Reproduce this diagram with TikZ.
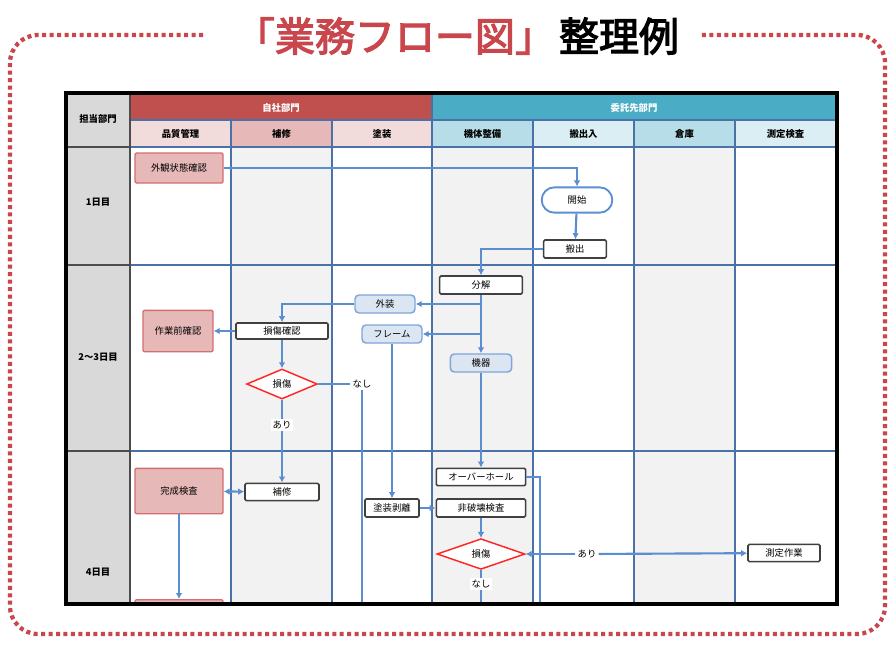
\documentclass[tikz,border=0pt]{standalone}
\usepackage{fontspec}
\setmainfont{Noto Sans CJK JP}
\newfontfamily\titlefont[FakeBold=3]{Noto Sans CJK JP}
\usetikzlibrary{arrows.meta,positioning,shapes.geometric,calc}

\definecolor{titlered}{HTML}{C9474C}
\definecolor{hdred}{HTML}{C0504D}
\definecolor{hdblue}{HTML}{4BACC6}
\definecolor{subred}{HTML}{F2DCDB}
\definecolor{subredd}{HTML}{E6B9B8}
\definecolor{subblue}{HTML}{B7DEE8}
\definecolor{subbluel}{HTML}{DAEEF3}
\definecolor{lanegray}{HTML}{F2F2F2}
\definecolor{cornergray}{HTML}{D9D9D9}
\definecolor{gridblue}{HTML}{4A72A8}
\definecolor{flowblue}{HTML}{5B8ED0}
\definecolor{qcfill}{HTML}{E6B9B8}
\definecolor{qcdraw}{HTML}{D26F70}
\definecolor{partfill}{HTML}{DCE6F2}
\definecolor{partdraw}{HTML}{7EA6DA}

\begin{document}
\begin{tikzpicture}[
  x=0.75pt, y=-0.75pt,
  font=\fontsize{7}{8}\selectfont,
  taskbox/.style={draw=black!75, line width=1.2pt, fill=white, rounded corners=1pt, minimum height=13.5pt, inner sep=1pt},
  qcbox/.style={draw=qcdraw, line width=1pt, fill=qcfill, rounded corners=1pt, inner sep=1pt},
  partbox/.style={draw=partdraw, line width=1.1pt, fill=partfill, rounded corners=3pt, minimum width=45pt, minimum height=13.5pt},
  termbox/.style={draw=flowblue, line width=1.4pt, fill=white, rounded corners=9.5pt, minimum width=53pt, minimum height=19pt},
  judge/.style={diamond, draw=red!85, line width=1.1pt, fill=white, inner sep=0pt},
  yesno/.style={fill=white, inner sep=1.5pt},
  flow/.style={draw=flowblue, line width=1.6pt, -{Latex[length=4.5pt,width=5pt]}},
  link/.style={draw=flowblue, line width=1.6pt},
  lanegrid/.style={draw=gridblue, line width=1pt},
  lanehead/.style={font=\fontsize{7}{8}\selectfont\bfseries}
]
\useasboundingbox (0,0) rectangle (895,644);
\fill[white] (0,0) rectangle (895,644);

\draw[titlered, line width=3.2pt, dash pattern=on 3pt off 2.6pt, rounded corners=21pt]
  (203,35) -- (10,35) -- (10,634) -- (885,634) -- (885,35) -- (700,35);
\node[font=\titlefont\fontsize{30}{34}\selectfont] (title) at (457,36)
  {\textcolor{titlered}{「業務フロー図」}\hspace{3pt}整理例};

\fill[cornergray] (67,94) rectangle (130,603);
\fill[hdred] (130,95) rectangle (432,120);
\fill[hdblue] (432,95) rectangle (836,120);
\foreach \xa in {231,432,634}
  \fill[lanegray] (\xa,147) rectangle ({\xa+101},603);
\foreach \xa/\xb/\col/\name in {130/231/subred/品質管理, 231/332/subredd/補修, 332/432/subred/塗装,
    432/533/subblue/機体整備, 533/634/subbluel/搬出入, 634/735/subblue/倉庫, 735/836/subbluel/測定検査}{
  \fill[\col] (\xa,120) rectangle (\xb,147);
  \node[lanehead] (h-\xa) at ({(\xa+\xb)/2},133.5) {\name};
}
\foreach \x in {231,332,533,634,735}
  \draw[lanegrid] (\x,120) -- (\x,603);
\draw[lanegrid] (432,95) -- (432,603);
\foreach \y in {120,147,265,451}
  \draw[lanegrid] (130,\y) -- (836,\y);
\draw[black!70, line width=1.1pt] (130,94) -- (130,603);
\foreach \y in {147,265,451}
  \draw[black!70, line width=1.1pt] (67,\y) -- (130,\y);

\node[lanehead, text=white] (own) at (281,107.5) {自社部門};
\node[lanehead, text=white] (partner) at (634,107.5) {委託先部門};
\node[lanehead] (corner) at (98,119) {担当部門};
\node[lanehead] (day1) at (98,202) {1日目};
\node[lanehead] (day23) at (98,357) {2～3日目};
\node[lanehead] (day4) at (98,572) {4日目};

\node[qcbox, minimum width=66pt, minimum height=22.5pt] (check) at (179,168) {外観状態確認};
\node[termbox] (start) at (577,200) {開始};
\node[taskbox, minimum width=47pt] (out) at (575,249) {搬出};
\node[taskbox, minimum width=62pt] (disasm) at (481,285) {分解};
\node[partbox] (exterior) at (385,304) {外装};
\node[partbox] (frame) at (392,334) {フレーム};
\node[partbox, minimum width=46pt] (parts) at (481,363) {機器};
\node[qcbox, minimum width=52.5pt, minimum height=31pt] (precheck) at (178,331) {作業前確認};
\node[taskbox, minimum width=69pt, minimum height=12pt] (dmgcheck) at (282,331) {損傷確認};
\node[judge, minimum width=53pt, minimum height=22.5pt] (dmg1) at (282,384) {損傷};
\node[yesno] (no1) at (362,384) {なし};
\node[yesno] (yes1) at (282,425) {あり};
\node[taskbox, minimum width=55.5pt, minimum height=13pt] (repair) at (282,492) {補修};
\node[qcbox, minimum width=66pt, minimum height=34pt] (final) at (179,491) {完成検査};
\node[taskbox, minimum width=40.5pt] (strip) at (392,508) {塗装剥離};
\node[taskbox, minimum width=67pt, minimum height=13pt] (overhaul) at (481,477) {オーバーホール};
\node[taskbox, minimum width=67pt] (ndt) at (481,508) {非破壊検査};
\node[judge, minimum width=66pt, minimum height=23pt] (dmg2) at (481,554) {損傷};
\node[yesno] (yes2) at (587,554) {あり};
\node[yesno] (no2) at (481,584) {なし};
\node[taskbox, minimum width=54pt, minimum height=13pt] (measure) at (784,553) {測定作業};
\begin{scope}
  \clip (66,93) rectangle (837,603);
  \node[qcbox, minimum width=66pt, minimum height=30pt, anchor=north] (nextcheck) at (179,599) {};
\end{scope}

\coordinate (tabbot) at (0,603);
\coordinate (ohend) at (540,603);

\draw[flow] (check.east) -| (start.north);
\draw[flow] (start) -- (out);
\draw[flow] (out.west) -| (disasm.north);
\draw[flow] (disasm.south) |- (exterior.east);
\draw[flow] (disasm.south) |- (frame.east);
\draw[flow] (disasm) -- (parts);
\draw[flow] (exterior.west) -| (dmgcheck.north);
\draw[flow] (dmgcheck) -- (precheck);
\draw[flow] (dmgcheck) -- (dmg1);
\draw[link] (dmg1) -- (no1);
\draw[link] (no1.south) -- (no1.south |- tabbot);
\draw[link] (dmg1) -- (yes1);
\draw[flow] (yes1) -- (repair);
\draw[flow, {Latex[length=4.5pt,width=5pt]}-{Latex[length=4.5pt,width=5pt]}] (final) -- (repair);
\draw[flow] (final) -- (nextcheck);
\draw[flow] (frame) -- (strip);
\draw[flow] (strip) -- (ndt);
\draw[flow] (parts) -- (overhaul);
\draw[link] (overhaul.east) -| (ohend);
\draw[flow] (ndt) -- (dmg2);
\draw[flow] (yes2) -- (dmg2);
\draw[flow] (yes2) -- (measure);
\draw[link] (dmg2) -- (no2);
\draw[link] (no2.south) -- (no2.south |- tabbot);

\draw[line width=2.4pt] (66,93) rectangle (837,604);
\end{tikzpicture}
\end{document}
